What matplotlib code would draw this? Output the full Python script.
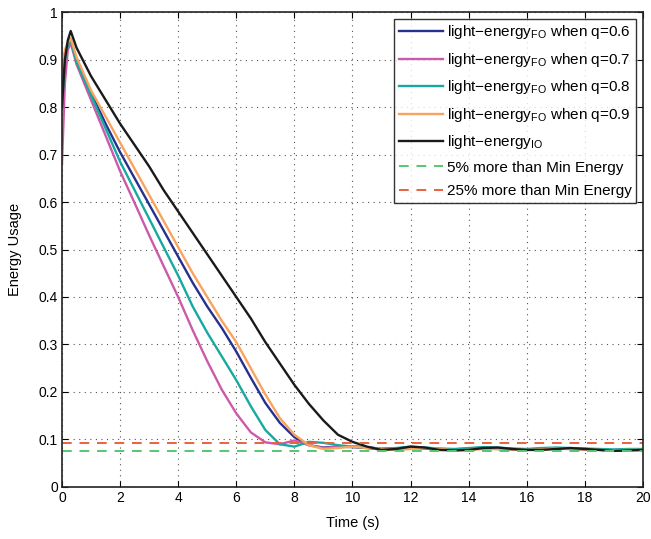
import numpy as np
import matplotlib
matplotlib.use("Agg")
import matplotlib.pyplot as plt

plt.rcParams["font.family"] = ["Liberation Sans", "DejaVu Sans"]
plt.rcParams["mathtext.fontset"] = "custom"
plt.rcParams["mathtext.rm"] = "Liberation Sans"
plt.rcParams["mathtext.it"] = "Liberation Sans:italic"

# Time samples (s)
time = [0, 0.1, 0.2, 0.3, 0.5, 1.0, 1.5, 2.0, 2.5, 3.0, 3.5, 4.0, 4.5, 5.0,
        5.5, 6.0, 6.5, 7.0, 7.5, 8.0, 8.5, 9.0, 9.5, 10.0, 10.5, 11.0, 11.5,
        12.0, 12.5, 13.0, 13.5, 14.0, 14.5, 15.0, 15.5, 16.0, 16.5, 17.0,
        17.5, 18.0, 18.5, 19.0, 19.5, 20.0]

fo_q06 = [0.80, 0.90, 0.93, 0.94, 0.90, 0.83, 0.765, 0.705, 0.65, 0.595,
          0.54, 0.485, 0.43, 0.38, 0.335, 0.285, 0.23, 0.177, 0.135, 0.105,
          0.088, 0.083, 0.085, 0.084, 0.082, 0.079, 0.080, 0.083, 0.081,
          0.079, 0.078, 0.080, 0.081, 0.080, 0.079, 0.078, 0.080, 0.081,
          0.080, 0.079, 0.078, 0.077, 0.078, 0.078]
fo_q07 = [0.68, 0.85, 0.92, 0.935, 0.89, 0.815, 0.74, 0.665, 0.598, 0.53,
          0.465, 0.40, 0.33, 0.265, 0.205, 0.155, 0.115, 0.094, 0.090, 0.098,
          0.088, 0.082, 0.085, 0.086, 0.084, 0.080, 0.081, 0.084, 0.082,
          0.080, 0.079, 0.081, 0.083, 0.082, 0.080, 0.079, 0.081, 0.082,
          0.081, 0.080, 0.079, 0.078, 0.079, 0.079]
fo_q08 = [0.80, 0.90, 0.93, 0.94, 0.895, 0.825, 0.755, 0.685, 0.625, 0.565,
          0.505, 0.445, 0.38, 0.325, 0.275, 0.225, 0.17, 0.12, 0.090, 0.085,
          0.095, 0.093, 0.088, 0.085, 0.083, 0.081, 0.082, 0.085, 0.083,
          0.081, 0.080, 0.082, 0.084, 0.083, 0.081, 0.080, 0.082, 0.083,
          0.082, 0.081, 0.080, 0.079, 0.080, 0.080]
fo_q09 = [0.88, 0.92, 0.935, 0.945, 0.905, 0.835, 0.78, 0.725, 0.67, 0.615,
          0.56, 0.505, 0.45, 0.40, 0.35, 0.305, 0.25, 0.195, 0.145, 0.11,
          0.088, 0.080, 0.082, 0.085, 0.082, 0.080, 0.078, 0.080, 0.082,
          0.080, 0.077, 0.078, 0.080, 0.080, 0.079, 0.078, 0.079, 0.081,
          0.080, 0.079, 0.078, 0.077, 0.078, 0.078]
io = [0.80, 0.90, 0.94, 0.96, 0.925, 0.865, 0.815, 0.765, 0.72, 0.675,
      0.625, 0.58, 0.535, 0.49, 0.445, 0.40, 0.355, 0.305, 0.26, 0.215,
      0.175, 0.14, 0.11, 0.095, 0.085, 0.078, 0.080, 0.085, 0.083, 0.078,
      0.077, 0.078, 0.082, 0.083, 0.080, 0.078, 0.078, 0.080, 0.082, 0.080,
      0.078, 0.076, 0.077, 0.078]

min_energy_5 = 0.0764
min_energy_25 = 0.0926

fig = plt.figure(figsize=(6.51, 5.39), dpi=100)
ax = fig.add_axes([0.0952, 0.0965, 0.8925, 0.8812])

lw = 1.7
ax.plot(time, fo_q06, color="#26308f", lw=lw, label="light\u2212energy$_{\\mathrm{FO}}$ when q=0.6")
ax.plot(time, fo_q07, color="#cc5aaa", lw=lw, label="light\u2212energy$_{\\mathrm{FO}}$ when q=0.7")
ax.plot(time, fo_q08, color="#17a9a0", lw=lw, label="light\u2212energy$_{\\mathrm{FO}}$ when q=0.8")
ax.plot(time, fo_q09, color="#f9a45e", lw=lw, label="light\u2212energy$_{\\mathrm{FO}}$ when q=0.9")
ax.plot(time, io, color="#1a1a1a", lw=lw, label="light\u2212energy$_{\\mathrm{IO}}$")
ax.axhline(min_energy_5, color="#55c770", lw=1.4, ls=(0, (5, 4)), label="5% more than Min Energy")
ax.axhline(min_energy_25, color="#e8623e", lw=1.4, ls=(0, (5, 4)), label="25% more than Min Energy")

ax.set_xlim(0, 20)
ax.set_ylim(0, 1)
ax.set_xticks(np.arange(0, 21, 2))
ax.set_yticks(np.arange(0, 1.01, 0.1))
ax.set_yticklabels(["0", "0.1", "0.2", "0.3", "0.4", "0.5", "0.6", "0.7", "0.8", "0.9", "1"])
ax.tick_params(direction="in", top=True, right=True, labelsize=10, length=4, width=0.8, pad=3)
ax.grid(True, ls=(0, (1, 4)), color="#555555", lw=0.8)
for s in ax.spines.values():
    s.set_linewidth(1.2)
    s.set_color("#222222")

ax.set_xlabel("Time (s)", fontsize=10.5, labelpad=8)
ax.set_ylabel("Energy Usage", fontsize=10.5, labelpad=12)

leg = ax.legend(loc="upper right", fontsize=11, frameon=True, fancybox=False,
                handlelength=2.9, handletextpad=0.25, borderpad=0.3,
                labelspacing=0.62, borderaxespad=0.45)
leg.get_frame().set_edgecolor("black")
leg.get_frame().set_linewidth(1.0)

fig.savefig("out.png", dpi=100)
